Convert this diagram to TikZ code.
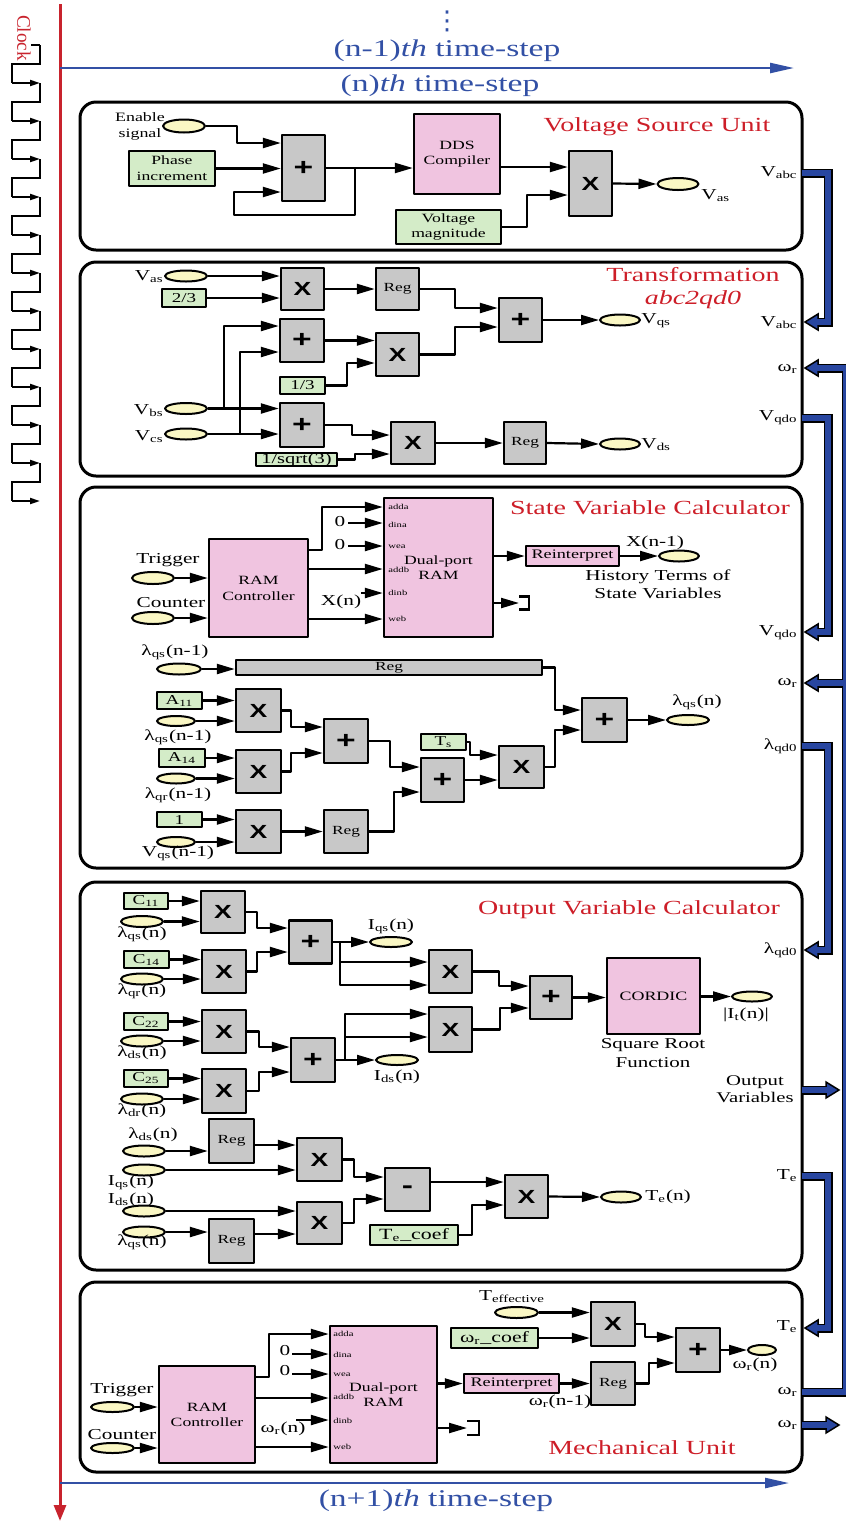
\documentclass[tikz,border=0pt]{standalone}
\usepackage{fontspec}
\setmainfont{Liberation Serif}[FakeStretch=1.4]
\newfontfamily\symfont{Liberation Sans}[FakeStretch=1.4]
\newfontfamily\clockfont{Liberation Serif}
\newfontfamily\dotsfont{DejaVu Sans}
\usetikzlibrary{arrows.meta,shapes.geometric}
\definecolor{blkgray}{RGB}{200,200,200}
\definecolor{cstgreen}{RGB}{212,236,200}
\definecolor{mempink}{RGB}{240,196,224}
\definecolor{portyel}{RGB}{250,247,196}
\definecolor{ttlred}{RGB}{205,30,40}
\definecolor{stepblue}{RGB}{50,80,165}
\definecolor{busblue}{RGB}{40,70,160}
\definecolor{clkred}{RGB}{200,35,45}
\newcommand{\sub}[1]{\textsubscript{#1}}
\tikzset{
  sz/.style 2 args={minimum width=#1*0.5pt, minimum height=#2*0.5pt},
  blk/.style={draw, fill=blkgray, line width=1.2pt, inner sep=0pt, sz={44}{43}, font=\symfont\bfseries\fontsize{9.5}{10}\selectfont},
  sumb/.style={blk, font=\symfont\bfseries\fontsize{12}{13}\selectfont},
  reg/.style={blk, font=\fontsize{6.2}{7}\selectfont},
  cst/.style={draw, fill=cstgreen, line width=1.1pt, inner sep=0pt, align=center, font=\fontsize{6.8}{8}\selectfont},
  mem/.style={draw, fill=mempink, line width=1.2pt, inner sep=0pt, align=center, font=\fontsize{6.3}{7.6}\selectfont},
  io/.style={ellipse, draw, fill=portyel, line width=1pt, inner sep=0pt, sz={42}{11}},
  lbl/.style={inner sep=0pt, font=\fontsize{7.6}{9}\selectfont},
  prt/.style={inner sep=0pt, anchor=west, font=\fontsize{3.8}{4.5}\selectfont},
  ttl/.style={inner sep=0pt, text=ttlred, font=\fontsize{10}{12}\selectfont},
  tstep/.style={inner sep=0pt, text=stepblue, font=\fontsize{12}{14}\selectfont},
  unit/.style={line width=1.5pt, rounded corners=8pt},
  sig/.style={->, line width=1.1pt},
  clk/.style={line width=0.9pt, line join=miter},
  redline/.style={draw=clkred, line width=1.5pt, -{Triangle[length=8pt,width=6pt]}},
  tarrow/.style={draw=stepblue, line width=1.2pt, -{Triangle[length=12pt,width=5pt]}},
  busback/.style={draw=black, line width=4.5pt, line cap=butt, line join=miter, shorten >=6.3pt},
  busfront/.style={draw=busblue, line width=2.7pt, line cap=butt, line join=miter, shorten >=4pt},
  bushead/.style={fill=busblue, draw=black, line width=0.75pt, line join=miter}
}
\begin{document}
\begin{tikzpicture}[x=0.5pt, y=-0.5pt, line join=round, >={Triangle[length=9pt,width=5pt]}]
\useasboundingbox (0,0) rectangle (846,1522);

\coordinate (clktop) at (60,4);
\coordinate (clkbot) at (60,1521);
\draw[redline] (clktop) -- (clkbot);
\node[text=clkred, font=\clockfont\fontsize{9.6}{11}\selectfont, rotate=-90, inner sep=0pt] (clock) at (24,38) {Clock};
\draw[clk] (31,45) -- (40,45);
\foreach \k in {0,...,11} {
  \pgfmathsetmacro\yy{45+38*\k}
  \draw[clk] (40,\yy) -- ++(0,19) -- ++(-28,0) -- ++(0,19) coordinate (ck\k);
  \draw[clk, -{Triangle[length=5pt,width=3pt]}] (ck\k) -- ++(28,0);
}

\node[text=stepblue, inner sep=0pt, font=\dotsfont\fontsize{13}{14}\selectfont] (vdots) at (447,21) {⋮};
\node[tstep] (prevstep) at (447,51) {(n-1)\textit{th} time-step};
\coordinate (ts1a) at (60,68);
\coordinate (ts1b) at (794,68);
\draw[tarrow] (ts1a) -- (ts1b);
\node[tstep] (curstep) at (440,86) {(n)\textit{th} time-step};
\coordinate (ts2a) at (60,1483);
\coordinate (ts2b) at (789,1483);
\draw[tarrow] (ts2a) -- (ts2b);
\node[tstep] (nextstep) at (436,1501) {(n+1)\textit{th} time-step};

\draw[unit] (80,102) rectangle (802,250);
\draw[unit] (80,262) rectangle (802,476);
\draw[unit] (80,487) rectangle (802,868);
\draw[unit] (80,882) rectangle (802,1270);
\draw[unit] (80,1282) rectangle (802,1472);

\node[ttl] (vsutitle) at (657,127) {Voltage Source Unit};
\node[lbl, align=center, font=\fontsize{6.4}{8}\selectfont] (enlbl) at (140,126) {Enable\\signal};
\node[io, sz={42}{13}] (enable) at (184,126) {};
\node[cst, sz={86}{35}, font=\fontsize{6.3}{8}\selectfont] (phase) at (172,168.5) {Phase\\increment};
\node[sumb, sz={43}{66}] (vadd) at (303.5,168) {+};
\node[mem, sz={86}{80}] (dds) at (457,154) {DDS\\Compiler};
\node[blk, sz={43}{65}] (vmul) at (590.5,183.5) {X};
\node[cst, sz={105}{34}, font=\fontsize{6.3}{7.4}\selectfont] (vmag) at (448.5,227) {Voltage\\magnitude};
\node[io, sz={41}{12}] (vas) at (678,184) {};
\node[lbl, anchor=west] (vaslbl) at (701,196) {V\sub{as}};
\coordinate (fb) at (355,168);
\draw[sig] (enable.east) -| (237,143) -- (vadd.west |- 0,143);
\draw[sig] (phase.east) -- (vadd.west |- phase.east);
\draw[sig] (vadd.east) -- (dds.west |- vadd.east);
\draw[sig] (fb) |- (234,215) |- (vadd.west |- 0,192);
\draw[sig] (dds.east |- 0,167) -- (vmul.west |- 0,167);
\draw[sig] (vmag.east) -| (527,195) -- (vmul.west |- 0,195);
\draw[sig] (vmul.east) -- (vas.west);

\node[ttl] (trtitle) at (693,275) {Transformation};
\node[ttl] (trsub) at (693,300) {\textit{abc2qd0}};
\node[io] (vas2) at (186,276) {};
\node[lbl, anchor=east] (vas2lbl) at (164,277) {V\sub{as}};
\node[cst, sz={44}{18}] (c23) at (184,298) {2/3};
\node[blk, sz={43}{42}] (tm1) at (302.5,289) {X};
\node[reg, sz={43}{42}] (treg1) at (397.5,289) {Reg};
\node[sumb, sz={43}{44}] (ta1) at (520.5,320) {+};
\node[io, sz={40}{11}] (vqs) at (620,320) {};
\node[lbl, anchor=west] (vqslbl) at (641,321) {V\sub{qs}};
\node[sumb, sz={44}{43}] (ta2) at (302,340.5) {+};
\node[blk, sz={43}{43}] (tm2) at (397.5,354.5) {X};
\node[cst, sz={45}{17}] (c13) at (302.5,385.5) {1/3};
\node[io] (vbs) at (186,408.5) {};
\node[lbl, anchor=east] (vbslbl) at (164,411) {V\sub{bs}};
\node[io] (vcs) at (186,434) {};
\node[lbl, anchor=east] (vcslbl) at (164,437) {V\sub{cs}};
\node[sumb, sz={44}{44}] (ta3) at (302,425) {+};
\node[blk, sz={44}{42}] (tm3) at (413,443) {X};
\node[cst, sz={81}{13}, font=\fontsize{7.3}{8}\selectfont] (csq) at (296.5,459.5) {1/sqrt(3)};
\node[reg, sz={42}{42}] (treg2) at (525,443) {Reg};
\node[io, sz={40}{11}] (vds) at (620,444) {};
\node[lbl, anchor=west] (vdslbl) at (641,445) {V\sub{ds}};
\coordinate (jb) at (224,409);
\coordinate (jc) at (240,434);
\draw[sig] (vas2.east) -- (tm1.west |- vas2.east);
\draw[sig] (c23.east) -- (tm1.west |- c23.east);
\draw[sig] (tm1.east) -- (treg1.west |- tm1.east);
\draw[sig] (treg1.east) -| (455,308) -- (ta1.west |- 0,308);
\draw[sig] (ta1.east) -- (vqs.west);
\draw[sig] (vbs.east) -- (ta3.west |- vbs.east);
\draw[sig] (jb) |- (ta2.west |- 0,326);
\draw[sig] (vcs.east) -- (ta3.west |- vcs.east);
\draw[sig] (jc) |- (ta2.west |- 0,352);
\draw[sig] (ta2.east) -- (tm2.west |- ta2.east);
\draw[sig] (c13.east) -| (347,363) -- (tm2.west |- 0,363);
\draw[sig] (tm2.east) -| (455,327) -- (ta1.west |- 0,327);
\draw[sig] (ta3.east) -| (352,435) -- (tm3.west |- 0,435);
\draw[sig] (csq.east) -| (355,454) -- (tm3.west |- 0,454);
\draw[sig] (tm3.east) -- (treg2.west |- tm3.east);
\draw[sig] (treg2.east) -- (vds.west);

\node[ttl] (svtitle) at (650,508) {State Variable Calculator};
\node[lbl] (trglbl) at (168,560) {Trigger};
\node[io, sz={42}{12}] (trig) at (153,578) {};
\node[lbl] (cntlbl) at (171,603) {Counter};
\node[io, sz={42}{12}] (cnt) at (153,618) {};
\node[mem, sz={99}{98}, font=\fontsize{6.3}{8}\selectfont] (ramc) at (258.5,588) {RAM\\Controller};
\node[mem, sz={109}{139}] (dpr) at (438.5,567.5) {Dual-port\\RAM};
\foreach \p/\y in {adda/507, dina/525, wea/547, addb/570, dinb/593, web/619}
  \node[prt] (s\p) at (388,\y) {\p};
\node[lbl] (zero1) at (340,522) {0};
\node[lbl] (zero2) at (340,545) {0};
\coordinate (z1) at (348,523);
\coordinate (z2) at (348,546);
\node[lbl] (xnlbl) at (341,602) {X(n)};
\coordinate (xn) at (361,593);
\node[mem, sz={93}{20}, font=\fontsize{6.5}{7.6}\selectfont] (reint) at (572.5,556) {Reinterpret};
\node[io, sz={40}{11}] (xprev) at (679,556) {};
\node[lbl] (xprevlbl) at (655,543) {X(n-1)};
\node[lbl, align=center] (hist) at (658,584) {History Terms of\\State Variables};
\coordinate (term) at (519,603);
\draw[sig] (trig.east) -- (ramc.west |- trig.east);
\draw[sig] (cnt.east) -- (ramc.west |- cnt.east);
\draw[sig] (ramc.east |- 0,550) -| (322,507) -- (dpr.west |- 0,507);
\draw[sig] (z1) -- (dpr.west |- z1);
\draw[sig] (z2) -- (dpr.west |- z2);
\draw[sig] (ramc.east |- 0,569) -- (dpr.west |- 0,569);
\draw[sig] (xn) -- (dpr.west |- xn);
\draw[sig] (ramc.east |- 0,619) -- (dpr.west |- 0,619);
\draw[sig] (dpr.east |- 0,556) -- (reint.west);
\draw[sig] (reint.east) -- (xprev.west);
\draw[sig] (dpr.east |- 0,603) -- (term);
\draw[line width=1.1pt, line join=miter] (term) ++(0,-6.5) -- ++(10,0) -- ++(0,13) -- ++(-10,0);

\node[lbl] (lqsplbl) at (175,652) {λ\sub{qs}(n-1)};
\node[io, sz={44}{11}] (lqsp) at (179,669) {};
\node[reg, sz={306}{15}] (longreg) at (389,667.5) {Reg};
\node[sumb, sz={45}{44}] (sfad) at (604.5,720) {+};
\node[io, sz={42}{10}] (lqsn) at (688,720) {};
\node[lbl] (lqsnlbl) at (697,702) {λ\sub{qs}(n)};
\node[cst, sz={45}{17}] (a11) at (179.5,700.5) {A\sub{11}};
\node[io, sz={38}{10}] (e11) at (176,721) {};
\node[lbl] (e11lbl) at (178,737) {λ\sub{qs}(n-1)};
\node[blk, sz={45}{43}] (sxa) at (258.5,710.5) {X};
\node[cst, sz={46}{18}] (a14) at (182,758) {A\sub{14}};
\node[io, sz={38}{10}] (e14) at (176,778.5) {};
\node[lbl] (e14lbl) at (178,795) {λ\sub{qr}(n-1)};
\node[blk, sz={45}{43}] (sxb) at (258.5,771.5) {X};
\node[sumb, sz={44}{44}] (spa) at (346,741) {+};
\node[sumb, sz={43}{44}] (spb) at (442.5,780) {+};
\node[cst, sz={45}{15}] (one) at (179.5,819.5) {1};
\node[io, sz={38}{10}] (eone) at (176,842) {};
\node[lbl] (eonelbl) at (178,853) {V\sub{qs}(n-1)};
\node[blk, sz={45}{43}] (sxc) at (258.5,831.5) {X};
\node[reg, sz={44}{43}] (sregc) at (346,831.5) {Reg};
\node[cst, sz={45}{16}] (tsc) at (443.5,742) {T\sub{s}};
\node[blk, sz={45}{42}] (sxd) at (521.5,767) {X};
\draw[sig] (lqsp.east) -- (longreg.west |- lqsp.east);
\draw[sig] (longreg.east) -| (555,710) -- (sfad.west |- 0,710);
\draw[sig] (a11.east) -- (sxa.west |- a11.east);
\draw[sig] (e11.east) -- (sxa.west |- e11.east);
\draw[sig] (a14.east) -- (sxb.west |- a14.east);
\draw[sig] (e14.east) -- (sxb.west |- e14.east);
\draw[sig] (sxa.east) -| (291,727) -- (spa.west |- 0,727);
\draw[sig] (sxb.east) -| (291,753) -- (spa.west |- 0,753);
\draw[sig] (spa.east) -| (390,767) -- (spb.west |- 0,767);
\draw[sig] (one.east) -- (sxc.west |- one.east);
\draw[sig] (eone.east) -- (sxc.west |- eone.east);
\draw[sig] (sxc.east) -- (sregc.west |- sxc.east);
\draw[sig] (sregc.east) -| (394,792) -- (spb.west |- 0,792);
\draw[sig] (tsc.east) -| (470,755) -- (sxd.west |- 0,755);
\draw[sig] (spb.east) -- (sxd.west |- spb.east);
\draw[sig] (sxd.east) -| (555,730) -- (sfad.west |- 0,730);
\draw[sig] (sfad.east) -- (lqsn.west);

\node[ttl] (ovtitle) at (629,910) {Output Variable Calculator};
\node[cst, sz={44}{16}] (c11) at (146,901) {C\sub{11}};
\node[io] (oe1) at (142,921.5) {};
\node[lbl] (oe1lbl) at (142,934) {λ\sub{qs}(n)};
\node[blk, sz={44}{42}] (om1) at (223,912) {X};
\node[cst, sz={45}{17}] (c14) at (146.5,959.5) {C\sub{14}};
\node[io] (oe2) at (142,979) {};
\node[lbl] (oe2lbl) at (142,991) {λ\sub{qr}(n)};
\node[blk, sz={44}{43}] (om2) at (224,971.5) {X};
\node[sumb, sz={43}{43}] (op1) at (310.5,942) {+};
\node[io, sz={42}{10}] (iqs) at (391,942) {};
\node[lbl] (iqslbl) at (391,926) {I\sub{qs}(n)};
\node[blk, sz={43}{43}] (om3) at (450.5,971.5) {X};
\node[cst, sz={44}{17}] (c22) at (146,1021.5) {C\sub{22}};
\node[io] (oe3) at (142,1041) {};
\node[lbl] (oe3lbl) at (142,1053) {λ\sub{ds}(n)};
\node[blk, sz={44}{43}] (om4) at (224,1031.5) {X};
\node[cst, sz={44}{17}] (c25) at (146,1078.5) {C\sub{25}};
\node[io] (oe4) at (142,1099) {};
\node[lbl] (oe4lbl) at (142,1111) {λ\sub{dr}(n)};
\node[blk, sz={44}{44}] (om5) at (224,1091) {X};
\node[sumb, sz={44}{44}] (op2) at (313,1060) {+};
\node[io, sz={42}{10}] (ids) at (397,1060) {};
\node[lbl] (idslbl) at (397,1077) {I\sub{ds}(n)};
\node[blk, sz={43}{45}] (om6) at (450.5,1029.5) {X};
\node[sumb, sz={42}{43}] (op3) at (551,997.5) {+};
\node[mem, sz={93}{76}, font=\fontsize{6.4}{7.6}\selectfont] (cordic) at (653.5,996) {CORDIC};
\node[lbl, align=center, font=\fontsize{7.5}{9.5}\selectfont] (sqrtlbl) at (653,1053) {Square Root\\Function};
\node[io, sz={40}{10}] (itn) at (752,996.5) {};
\node[lbl] (itnlbl) at (746,1015) {|I\sub{t}(n)|};
\node[lbl, align=center, font=\fontsize{7.4}{8.5}\selectfont] (outvar) at (755,1089) {Output\\Variables};
\coordinate (jq) at (340,942);
\coordinate (jd) at (345,1060);
\draw[sig] (c11.east) -- (om1.west |- c11.east);
\draw[sig] (oe1.east) -- (om1.west |- oe1.east);
\draw[sig] (c14.east) -- (om2.west |- c14.east);
\draw[sig] (oe2.east) -- (om2.west |- oe2.east);
\draw[sig] (om1.east) -| (257,928) -- (op1.west |- 0,928);
\draw[sig] (om2.east) -| (257,952) -- (op1.west |- 0,952);
\draw[sig] (op1.east) -- (iqs.west);
\draw[sig] (jq) |- (om3.west |- 0,962);
\draw[sig] (jq) |- (om3.west |- 0,985);
\draw[sig] (c22.east) -- (om4.west |- c22.east);
\draw[sig] (oe3.east) -- (om4.west |- oe3.east);
\draw[sig] (c25.east) -- (om5.west |- c25.east);
\draw[sig] (oe4.east) -- (om5.west |- oe4.east);
\draw[sig] (om4.east) -| (259,1047) -- (op2.west |- 0,1047);
\draw[sig] (om5.east) -| (259,1072) -- (op2.west |- 0,1072);
\draw[sig] (op2.east) -- (ids.west);
\draw[sig] (jd) |- (om6.west |- 0,1014);
\draw[sig] (jd) |- (om6.west |- 0,1037);
\draw[sig] (om3.east) -| (499,986) -- (op3.west |- 0,986);
\draw[sig] (om6.east) -| (500,1008) -- (op3.west |- 0,1008);
\draw[sig] (op3.east) -- (cordic.west |- op3.east);
\draw[sig] (cordic.east |- itn) -- (itn.west);

\node[io] (of1) at (144,1151) {};
\node[lbl] (of1lbl) at (153,1135) {λ\sub{ds}(n)};
\node[reg, sz={45}{44}] (oreg1) at (231.5,1141) {Reg};
\node[io] (of2) at (144,1170) {};
\node[lbl] (of2lbl) at (131,1182) {I\sub{qs}(n)};
\node[blk, sz={45}{43}] (oq1) at (319.5,1159.5) {X};
\node[io] (of3) at (144,1211) {};
\node[lbl] (of3lbl) at (131,1200) {I\sub{ds}(n)};
\node[io] (of4) at (144,1232) {};
\node[lbl] (of4lbl) at (142,1242) {λ\sub{qs}(n)};
\node[reg, sz={45}{44}] (oreg2) at (231.5,1241) {Reg};
\node[blk, sz={45}{42}] (oq2) at (319.5,1223) {X};
\node[sumb, sz={45}{43}] (omin) at (407.5,1189.5) {-};
\node[blk, sz={43}{43}] (oq3) at (526.5,1196.5) {X};
\node[cst, sz={88}{20}, font=\fontsize{7.8}{9}\selectfont] (tec) at (414,1235) {T\sub{e}\_coef};
\node[io, sz={40}{11}] (ten) at (621,1197) {};
\node[lbl, anchor=west] (tenlbl) at (645,1197) {T\sub{e}(n)};
\draw[sig] (of1.east) -- (oreg1.west |- of1.east);
\draw[sig] (oreg1.east |- 0,1145) -- (oq1.west |- 0,1145);
\draw[sig] (of2.east) -- (oq1.west |- of2.east);
\draw[sig] (of3.east) -- (oq2.west |- of3.east);
\draw[sig] (of4.east) -- (oreg2.west |- of4.east);
\draw[sig] (oreg2.east |- 0,1234) -- (oq2.west |- 0,1234);
\draw[sig] (oq1.east) -| (354,1177) -- (omin.west |- 0,1177);
\draw[sig] (oq2.east) -| (354,1199) -- (omin.west |- 0,1199);
\draw[sig] (omin.east |- 0,1182) -- (oq3.west |- 0,1182);
\draw[sig] (tec.east) -| (472,1205) -- (oq3.west |- 0,1205);
\draw[sig] (oq3.east) -- (ten.west);

\node[ttl] (mutitle) at (642,1448) {Mechanical Unit};
\node[lbl] (mtrglbl) at (122,1390) {Trigger};
\node[io, sz={43}{10}] (mtrig) at (112.5,1407) {};
\node[lbl] (mcntlbl) at (122,1435) {Counter};
\node[io, sz={43}{10}] (mcnt) at (112.5,1448) {};
\node[mem, sz={96}{97}] (mramc) at (207,1414.5) {RAM\\Controller};
\node[mem, sz={107}{137}] (mdpr) at (383.5,1394.5) {Dual-port\\RAM};
\foreach \p/\y in {adda/1334, dina/1355, wea/1375, addb/1397, dinb/1421, web/1447}
  \node[prt] (m\p) at (333,\y) {\p};
\node[lbl] (mzero1) at (285,1351) {0};
\node[lbl] (mzero2) at (285,1371) {0};
\coordinate (mz1) at (292,1354);
\coordinate (mz2) at (292,1374);
\node[lbl] (mwnlbl) at (283,1429) {ω\sub{r}(n)};
\coordinate (mwn) at (296,1420);
\node[mem, sz={95}{19}, font=\fontsize{6.5}{7.6}\selectfont] (mreint) at (511.5,1383.5) {Reinterpret};
\node[reg, sz={44}{43}] (mreg) at (613,1383.5) {Reg};
\node[lbl] (wprevlbl) at (560,1402) {ω\sub{r}(n-1)};
\node[lbl] (tefflbl) at (512,1297) {T\sub{effective}};
\node[io, sz={43}{11}] (teff) at (516.5,1312.5) {};
\node[blk, sz={44}{44}] (mmul) at (613,1324) {X};
\node[cst, sz={87}{20}, font=\fontsize{7.8}{9}\selectfont] (wcoef) at (494.5,1338) {ω\sub{r}\_coef};
\node[sumb, sz={44}{44}] (madd) at (698,1350) {+};
\node[io, sz={28}{10}] (wn) at (762,1350) {};
\node[lbl] (wnlbl) at (755,1365) {ω\sub{r}(n)};
\coordinate (mterm) at (467,1428);
\draw[sig] (mtrig.east) -- (mramc.west |- mtrig.east);
\draw[sig] (mcnt.east) -- (mramc.west |- mcnt.east);
\draw[sig] (mramc.east |- 0,1377) -| (269,1334) -- (mdpr.west |- 0,1334);
\draw[sig] (mz1) -- (mdpr.west |- mz1);
\draw[sig] (mz2) -- (mdpr.west |- mz2);
\draw[sig] (mramc.east |- 0,1398) -- (mdpr.west |- 0,1398);
\draw[sig] (mwn) -- (mdpr.west |- mwn);
\draw[sig] (mramc.east |- 0,1447) -- (mdpr.west |- 0,1447);
\draw[sig] (mdpr.east |- mreint) -- (mreint.west);
\draw[sig] (mdpr.east |- 0,1428) -- (mterm);
\draw[line width=1.1pt, line join=miter] (mterm) ++(0,-7) -- ++(12,0) -- ++(0,14) -- ++(-12,0);
\draw[sig] (mreint.east) -- (mreg.west);
\draw[sig] (teff.east) -- (mmul.west |- teff.east);
\draw[sig] (wcoef.east) -- (mmul.west |- wcoef.east);
\draw[sig] (mmul.east) -| (645,1337) -- (madd.west |- 0,1337);
\draw[sig] (mreg.east) -| (649,1363) -- (madd.west |- 0,1363);
\draw[sig] (madd.east) -- (wn.west);

\foreach \t/\y [count=\i] in {V\sub{abc}/173, V\sub{abc}/323, ω\sub{r}/369, V\sub{qdo}/418, V\sub{qdo}/633, ω\sub{r}/683, λ\sub{qd0}/746, λ\sub{qd0}/950, T\sub{e}/1176, T\sub{e}/1327, ω\sub{r}/1392, ω\sub{r}/1425}
  \node[lbl, anchor=east] (side\i) at (798,\y) {\t};

\coordinate (vabc1) at (802,173);
\coordinate (vabc2) at (805,322);
\coordinate (wr5) at (802,1392);
\coordinate (wr2) at (805,368);
\coordinate (wr3) at (805,683);
\coordinate (vqdo2) at (802,418);
\coordinate (vqdo3) at (805,632);
\coordinate (lqd3) at (802,746);
\coordinate (lqd4) at (805,950);
\coordinate (outv) at (802,1090);
\coordinate (outvt) at (839,1090);
\coordinate (te4) at (802,1176);
\coordinate (te5) at (805,1328);
\coordinate (wr5b) at (802,1425);
\coordinate (wr5t) at (839,1425);
\foreach \c in {vabc2, wr2, wr3, vqdo3, lqd4, te5}
  \filldraw[bushead] (\c) -- ++(13,-8) -- ++(0,16) -- cycle;
\foreach \c in {outvt, wr5t}
  \filldraw[bushead] (\c) -- ++(-13,-8) -- ++(0,16) -- cycle;
\foreach \s in {busback, busfront} {
  \draw[\s] (vabc1) -| (828,322) -- (vabc2);
  \draw[\s] (wr5) -| (846,368) -- (wr2);
  \draw[\s] (846,683) -- (wr3);
  \draw[\s] (vqdo2) -| (828,632) -- (vqdo3);
  \draw[\s] (lqd3) -| (828,950) -- (lqd4);
  \draw[\s] (outv) -- (outvt);
  \draw[\s] (te4) -| (828,1328) -- (te5);
  \draw[\s] (wr5b) -- (wr5t);
}
\end{tikzpicture}
\end{document}
